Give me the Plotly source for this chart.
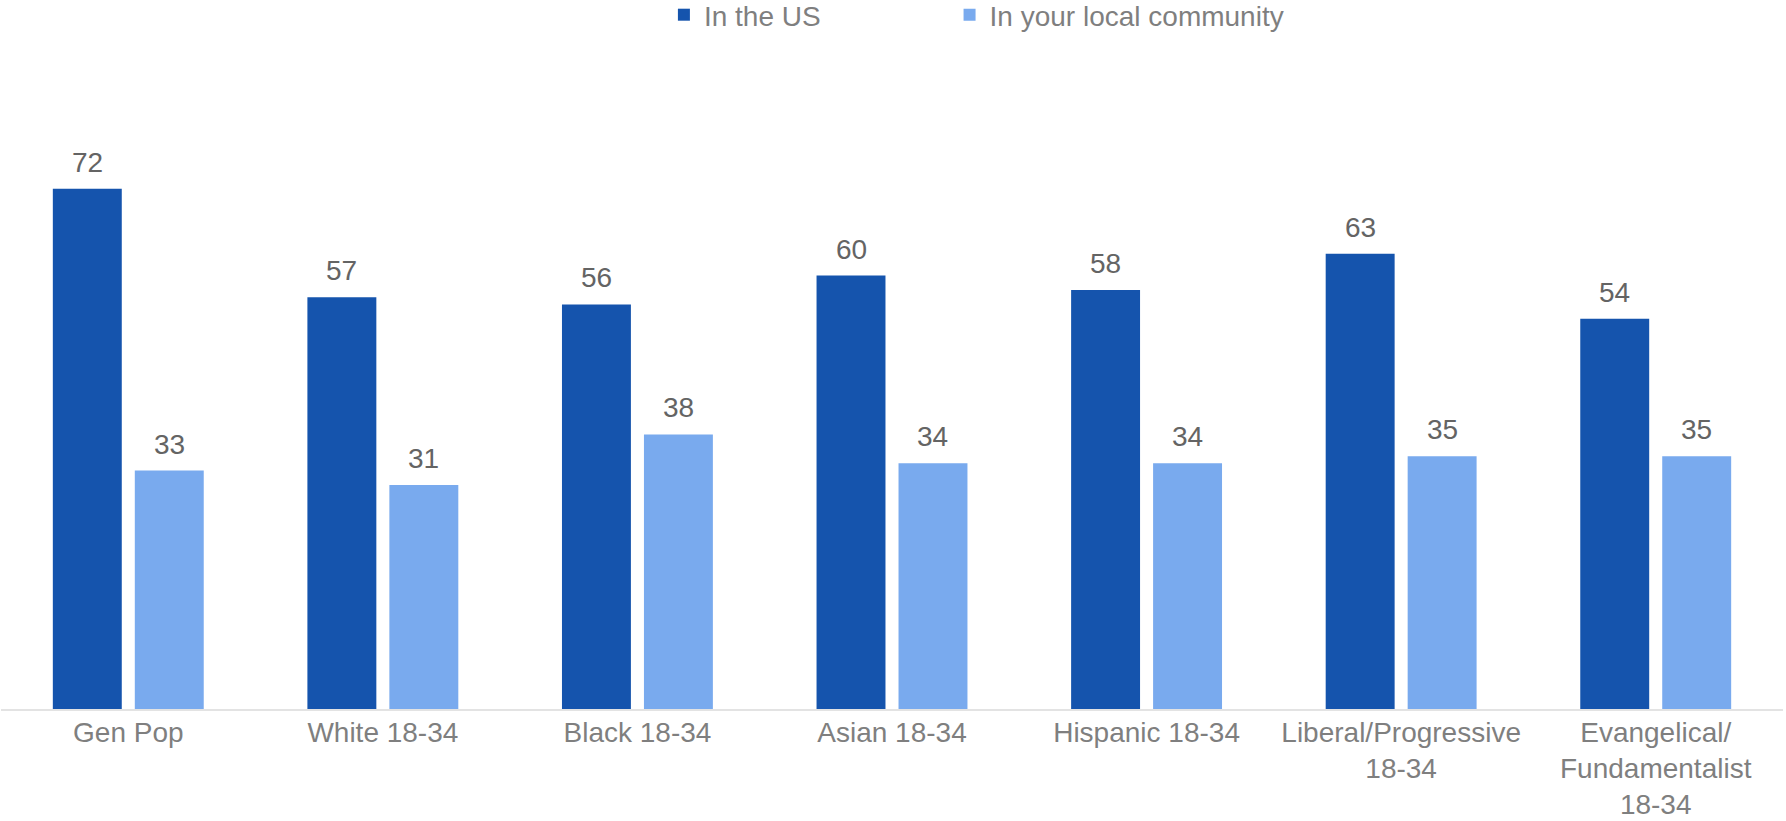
import plotly.graph_objects as go

categories = [
    "Gen Pop",
    "White 18-34",
    "Black 18-34",
    "Asian 18-34",
    "Hispanic 18-34",
    "Liberal/Progressive<br>18-34",
    "Evangelical/<br>Fundamentalist<br>18-34",
]
in_the_us = [72, 57, 56, 60, 58, 63, 54]
in_local_community = [33, 31, 38, 34, 34, 35, 35]

DARK = "#1554ad"
LIGHT = "#79aaee"
LABEL_GREY = "#646464"
AXIS_GREY = "#7f7f7f"
FONT = "Liberation Sans, Arial, sans-serif"

WIDTH, HEIGHT = 1786, 821
MARGIN = dict(l=1, r=3, t=131, b=112, autoexpand=False)
BARGAP, BARGROUPGAP = 0.356, 0.159

# horizontal offset of each bar's centre from its category centre, in px
plot_w = WIDTH - MARGIN["l"] - MARGIN["r"]
slot_w = plot_w / len(categories) * (1 - BARGAP) / 2
series = [
    ("In the US", in_the_us, DARK, "legend", -slot_w / 2),
    ("In your local community", in_local_community, LIGHT, "legend2", slot_w / 2),
]

fig = go.Figure()
annotations = []
for name, values, color, legend_id, shift in series:
    fig.add_trace(go.Bar(
        name=name, x=categories, y=values, legend=legend_id,
        marker=dict(color=color, line=dict(width=0)),
    ))
    for cat, val in zip(categories, values):
        annotations.append(dict(
            x=cat, y=val, xref="x", yref="y", text=str(val),
            showarrow=False, xanchor="center", yanchor="bottom",
            xshift=shift, yshift=9,
            font=dict(size=28, color=LABEL_GREY, family=FONT),
        ))

legend_common = dict(
    orientation="h", xref="paper", yref="paper",
    yanchor="middle", y=1 + (MARGIN["t"] - 15) / (HEIGHT - MARGIN["t"] - MARGIN["b"]),
    xanchor="left",
    font=dict(size=28, color=AXIS_GREY, family=FONT),
    bgcolor="rgba(0,0,0,0)",
)

fig.update_layout(
    width=WIDTH, height=HEIGHT,
    margin=MARGIN,
    paper_bgcolor="white", plot_bgcolor="white",
    barmode="group", bargap=BARGAP, bargroupgap=BARGROUPGAP,
    font=dict(family=FONT, size=28, color=AXIS_GREY),
    showlegend=True,
    legend=dict(legend_common, x=0.372),
    legend2=dict(legend_common, x=0.5323),
    annotations=annotations,
)
fig.update_xaxes(
    showline=True, linecolor="#e3e3e3", linewidth=2,
    showgrid=False, ticks="", ticklabelstandoff=-3, automargin=False,
    tickfont=dict(size=28, color=AXIS_GREY, family=FONT),
)
fig.update_yaxes(
    range=[0, 80], visible=False, showgrid=False, zeroline=False,
    automargin=False,
)

fig.write_html("out.html")
